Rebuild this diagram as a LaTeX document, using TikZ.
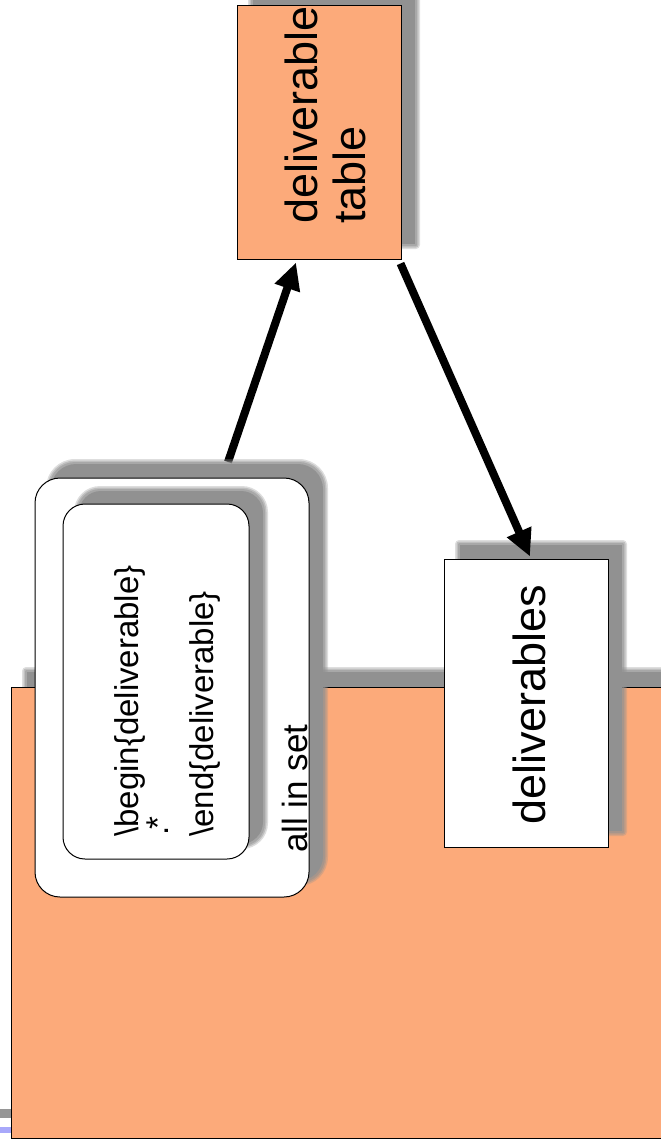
\documentclass[tikz,border=0pt]{standalone}
\usepackage{fontspec}
\setmainfont{Liberation Sans}
\usetikzlibrary{arrows.meta,calc}
\definecolor{boxorange}{RGB}{252,170,122}
\definecolor{shadowgray}{RGB}{145,145,145}
\definecolor{artgray}{RGB}{150,150,150}
\definecolor{artblue}{RGB}{168,168,250}
\newcommand{\softshadow}[5]{%
  \foreach \d/\o in {4/0.3,2.5/0.4,1/0.5}{%
    \fill[shadowgray,opacity=\o,rounded corners={(#5+\d)*1pt}] ({#1-\d},{#2-\d}) rectangle ({#3+\d},{#4+\d});
  }%
  \fill[shadowgray,rounded corners={#5*1pt}] ({#1+1},{#2+1}) rectangle ({#3-1},{#4-1});
}
\tikzset{
  boxline/.style={draw=black,line width=1pt,inner sep=0pt},
  vtext/.style={rotate=90,anchor=base west,inner sep=0pt},
  bigarrow/.style={line width=8pt,-{Triangle[length=27pt,width=25pt]}},
}
\begin{document}
\begin{tikzpicture}[x=1pt,y=-1pt]
\useasboundingbox (0,0) rectangle (661,1146);
\clip (0,0) rectangle (661,1146);
% edge artifacts at the left
\fill[artgray] (0,1109) rectangle (11,1118);
\fill[artblue] (0,1127) rectangle (11,1133);
% big orange area
\softshadow{26}{671}{700}{1122}{0}
\node[boxline,fill=boxorange,minimum width=700pt,minimum height=451pt] (big) at (361,912.5) {};
% deliverable table box
\softshadow{252}{-10}{416}{245}{0}
\node[boxline,fill=boxorange,minimum width=164pt,minimum height=254pt] (tbl) at (319,132) {};
% arrow up to table
\coordinate (a1s) at (228,462);
\draw[bigarrow] (a1s) -- ($(tbl.south)+(-23,3)$);
% outer rounded box
\softshadow{50}{463}{324}{882}{25}
\node[boxline,fill=white,rounded corners=25pt,minimum width=274pt,minimum height=419pt] (outer) at (172,687.5) {};
% inner rounded box
\softshadow{78}{490}{264}{845}{22}
\node[boxline,fill=white,rounded corners=22pt,minimum width=186pt,minimum height=355pt] (inner) at (156,681.5) {};
% deliverables box
\softshadow{459}{544}{623}{832}{0}
\node[boxline,fill=white,minimum width=164pt,minimum height=288pt] (del) at (526,703) {};
% arrow down to deliverables
\draw[bigarrow] ($(tbl.south east)+(-1,4)$) -- ($(del.north)+(4,-2)$);
% texts
\node[vtext,font=\fontsize{45pt}{54pt}\selectfont] (t1) at (317,224) {deliverable};
\node[vtext,font=\fontsize{45pt}{54pt}\selectfont] (t2) at (365,224) {table};
\node[vtext,font=\fontsize{45pt}{54pt}\selectfont] (t3) at (545,825) {deliverables};
\node[vtext,font=\fontsize{33pt}{40pt}\selectfont] (c1) at (138,837) {\textbackslash begin\{deliverable\}};
\node[vtext,font=\fontsize{33pt}{40pt}\selectfont] (c2) at (169,830) {*};
\node[vtext,font=\fontsize{33pt}{40pt}\selectfont] (c3) at (168,836) {.};
\node[vtext,font=\fontsize{33pt}{40pt}\selectfont] (c4) at (213,837) {\textbackslash end\{deliverable\}};
\node[vtext,font=\fontsize{35pt}{42pt}\selectfont] (c5) at (307,853) {all in set};
\end{tikzpicture}
\end{document}
